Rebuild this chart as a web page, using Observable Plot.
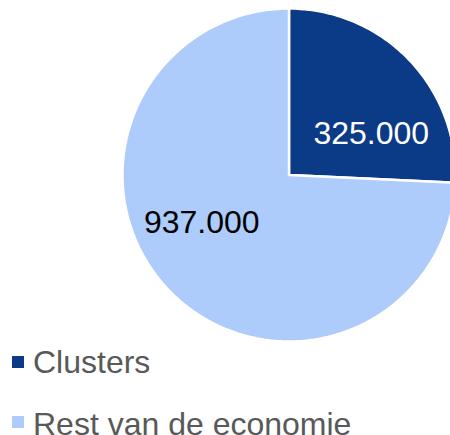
<!DOCTYPE html>
<html>
<head>
<meta charset="utf-8">
<script src="https://cdn.jsdelivr.net/npm/d3@7"></script>
<script src="https://cdn.jsdelivr.net/npm/@observablehq/plot@0.6"></script>
<style>
  html, body { margin: 0; padding: 0; background: #fff; }
  body { width: 450px; height: 435px; overflow: hidden; font-family: "Liberation Sans", Arial, sans-serif; }
  #chart svg { display: block; }
  .legend { padding-top: 2px; }
  .row { display: flex; align-items: center; height: 30px; margin-bottom: 30px; padding-left: 12px; }
  .sw { width: 12px; height: 12px; margin-right: 9px; flex: none; }
  .lab { font-size: 32px; line-height: 30px; color: #595959; white-space: nowrap; position: relative; }
  .row + .row .lab { top: 2px; }
</style>
</head>
<body>
<div id="chart"></div>
<div class="legend" id="legend"></div>
<script>
const categories = ["Clusters", "Rest van de economie"];
const values = [325000, 937000];
const valueLabels = ["325.000", "937.000"];
const colors = ["#0B3A86", "#ADCBFB"];

const arcs = d3.pie().sort(null).value(d => d)(values);

// slice outlines (geometry of each slice, derived from the data)
function slicePoints(a, i) {
  const pts = [{x: 0, y: 0, cat: categories[i]}];
  const n = Math.max(2, Math.ceil((a.endAngle - a.startAngle) / (2 * Math.PI) * 360));
  for (let k = 0; k <= n; k++) {
    const t = a.startAngle + (a.endAngle - a.startAngle) * k / n;
    pts.push({x: Math.sin(t), y: Math.cos(t), cat: categories[i]});
  }
  return pts;
}
const slices = arcs.map(slicePoints);
const labelPos = arcs.map((a, i) => {
  const m = (a.startAngle + a.endAngle) / 2;
  return {x: 0.6 * Math.sin(m), y: 0.6 * Math.cos(m), text: valueLabels[i]};
});

const plot = Plot.plot({
  width: 450,
  height: 345,
  margin: 0,
  x: {domain: [-1, 1], range: [122, 455], axis: null},
  y: {domain: [-1, 1], range: [341, 8], axis: null},
  style: {fontFamily: "'Liberation Sans', Arial, sans-serif", background: "#fff"},
  marks: [
    Plot.line(slices[0], {x: "x", y: "y", fill: colors[0], stroke: "white", strokeWidth: 2.5, curve: "linear-closed", strokeLinejoin: "miter"}),
    Plot.line(slices[1], {x: "x", y: "y", fill: colors[1], stroke: "white", strokeWidth: 2.5, curve: "linear-closed", strokeLinejoin: "miter"}),
    Plot.text([labelPos[0]], {x: "x", y: "y", text: "text", fill: "white", fontSize: 32, dx: 10, dy: 28}),
    Plot.text([labelPos[1]], {x: "x", y: "y", text: "text", fill: "black", fontSize: 32, dx: -15, dy: -21})
  ]
});
document.getElementById("chart").append(plot);

const legend = document.getElementById("legend");
categories.forEach((c, i) => {
  const row = document.createElement("div");
  row.className = "row";
  const sw = document.createElement("span");
  sw.className = "sw";
  sw.style.background = colors[i];
  const lab = document.createElement("span");
  lab.className = "lab";
  lab.textContent = c;
  row.append(sw, lab);
  legend.append(row);
});
</script>
</body>
</html>
